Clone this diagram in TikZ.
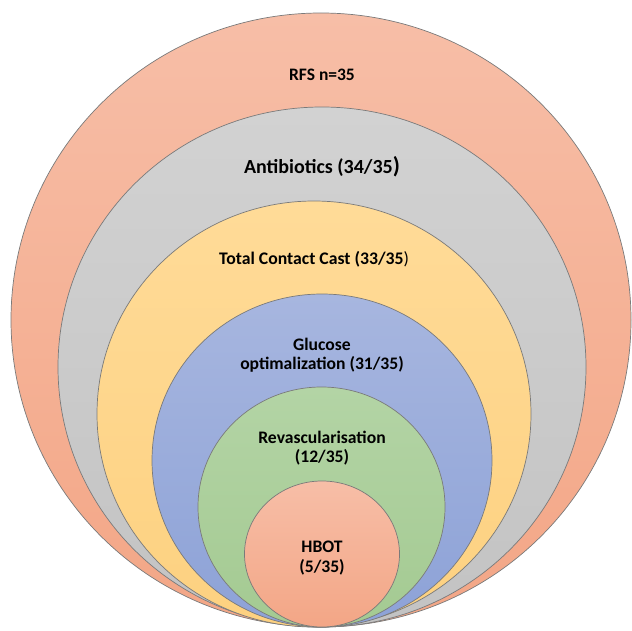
\documentclass[tikz,border=0pt]{standalone}
\usepackage{fontspec}
\setmainfont{Carlito}
\usepackage{xcolor}

\definecolor{SalmonTop}{HTML}{F7BEA7}
\definecolor{SalmonBot}{HTML}{F3A686}
\definecolor{GreyTop}{HTML}{D2D2D2}
\definecolor{GreyBot}{HTML}{C3C3C3}
\definecolor{GoldTop}{HTML}{FFDB98}
\definecolor{GoldBot}{HTML}{FDD180}
\definecolor{BlueTop}{HTML}{A7B6DF}
\definecolor{BlueBot}{HTML}{8DA2D7}
\definecolor{GreenTop}{HTML}{B3D4A5}
\definecolor{GreenBot}{HTML}{A4CA92}
\definecolor{RingLine}{HTML}{7A7A7A}

\tikzset{
  ring/.style={draw=RingLine, line width=0.7pt},
  lbl/.style={font=\bfseries\fontsize{#1}{19.5}\selectfont, align=center, inner sep=0pt}
}

\begin{document}
\begin{tikzpicture}[x=1pt,y=-1pt]

	\useasboundingbox (0,0) rectangle (632,631);

	% rings, outside in
	\draw[ring, top color=SalmonTop, bottom color=SalmonBot] (321,320) ellipse [x radius=310, y radius=307];
	\draw[ring, top color=GreyTop, bottom color=GreyBot] (322,367) ellipse [x radius=264, y radius=260];
	\draw[ring, top color=GoldTop, bottom color=GoldBot] (314,414) ellipse [x radius=217, y radius=213];
	\draw[ring, top color=BlueTop, bottom color=BlueBot] (322,460.5) ellipse [x radius=170, y radius=166.5];
	\draw[ring, top color=GreenTop, bottom color=GreenBot] (321.5,507) ellipse [x radius=123.5, y radius=120];
	\draw[ring, top color=SalmonTop, bottom color=SalmonBot] (322,554) ellipse [x radius=77.5, y radius=73];

	\node[lbl=17.5] (rfs) at (322,75) {RFS n=35};
	\node[lbl=20] (abx) at (322,167) {Antibiotics (34/35{\fontsize{23}{23}\selectfont )}};
	\node[lbl=17.7] (tcc) at (314,259) {Total Contact Cast (33/35\mdseries )};
	\node[lbl=17.6] (glu) at (322,355) {Glucose\\optimalization (31/35)};
	\node[lbl=17.6] (rev) at (322,448) {Revascularisation\\(12/35)};
	\node[lbl=17.6] (hbot) at (322,558) {HBOT\\(5/35)};

\end{tikzpicture}
\end{document}
